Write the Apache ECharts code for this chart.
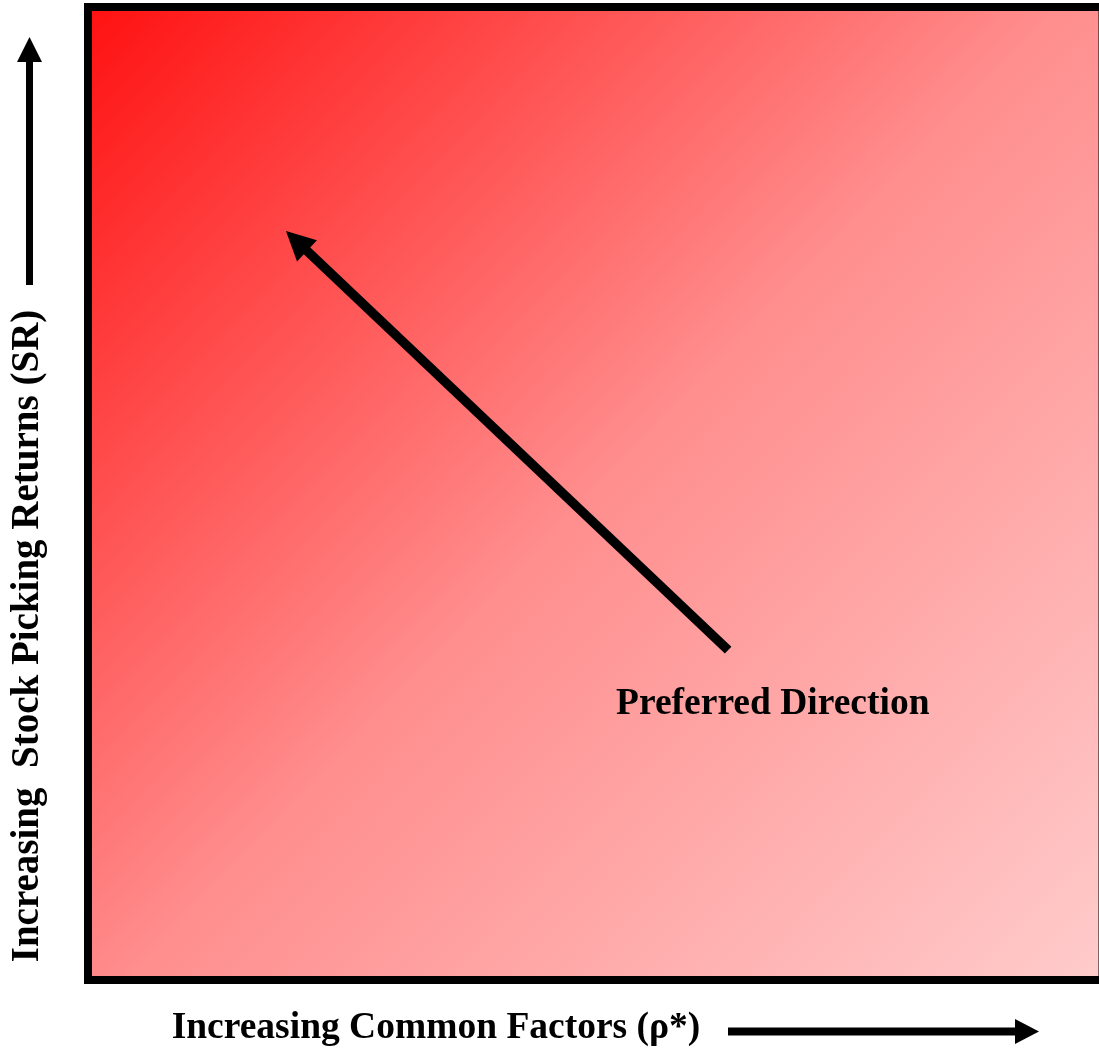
<!DOCTYPE html>
<html>
<head>
<meta charset="utf-8">
<script src="https://cdn.jsdelivr.net/npm/echarts@6/dist/echarts.min.js"></script>
<style>html,body{margin:0;padding:0;background:#fff}#c{width:1099px;height:1053px}</style>
</head>
<body>
<div id="c"></div>
<script>
const xRange = [0, 100];
const yRange = [0, 100];
const arrowStart = [63.1, 33.9];
const arrowEnd = [20.55, 75.96];
const directionPoint = [67.5, 28.3];
const directionLabel = 'Preferred Direction';
const xTitle = 'Increasing Common Factors (ρ*)';
const yTitle = 'Increasing  Stock Picking Returns (SR)';

const chart = echarts.init(document.getElementById('c'));
const FONT = '"Liberation Serif", "Times New Roman", serif';
chart.setOption({
  animation: false,
  grid: {
    left: 88, top: 7, width: 1014.5, height: 973,
    outerBoundsMode: 'none',
    containLabel: false,
    show: true,
    borderColor: '#000', borderWidth: 8,
    backgroundColor: new echarts.graphic.LinearGradient(0, 0, 1, 1, [
      { offset: 0, color: '#ff1010' },
      { offset: 0.5, color: '#ff8e8e' },
      { offset: 1, color: '#ffcccc' }
    ])
  },
  xAxis: { type: 'value', min: xRange[0], max: xRange[1], show: false },
  yAxis: { type: 'value', min: yRange[0], max: yRange[1], show: false },
  series: [
    {
      type: 'lines',
      coordinateSystem: 'cartesian2d',
      symbol: ['none', 'triangle'],
      symbolSize: [0, 29],
      lineStyle: { color: '#000', width: 9.5, opacity: 1, curveness: 0 },
      data: [{ coords: [arrowStart, arrowEnd] }],
      z: 5
    },
    {
      type: 'scatter',
      symbolSize: 0,
      itemStyle: { opacity: 1 },
      data: [directionPoint],
      label: {
        show: true, position: 'inside', formatter: directionLabel,
        color: '#000', fontFamily: FONT, fontWeight: 'bold', fontSize: 37.5
      }
    }
  ],
  graphic: [
    { type: 'rect', shape: { x: 26, y: 60, width: 7, height: 225 }, style: { fill: '#000' } },
    { type: 'polygon', shape: { points: [[17, 62], [42, 62], [29.5, 37]] }, style: { fill: '#000' } },
    { type: 'rect', shape: { x: 728, y: 1027.5, width: 290, height: 8 }, style: { fill: '#000' } },
    { type: 'polygon', shape: { points: [[1015, 1019], [1015, 1044], [1039, 1031.5]] }, style: { fill: '#000' } },
    {
      type: 'text', x: 436, y: 1028,
      style: { text: xTitle, fill: '#000', font: 'bold 37.5px ' + FONT, textAlign: 'center', textVerticalAlign: 'middle' }
    },
    {
      type: 'text', x: 28, y: 636, rotation: Math.PI / 2,
      style: { text: yTitle, fill: '#000', font: 'bold 39px ' + FONT, textAlign: 'center', textVerticalAlign: 'middle' }
    }
  ]
});
</script>
</body>
</html>
